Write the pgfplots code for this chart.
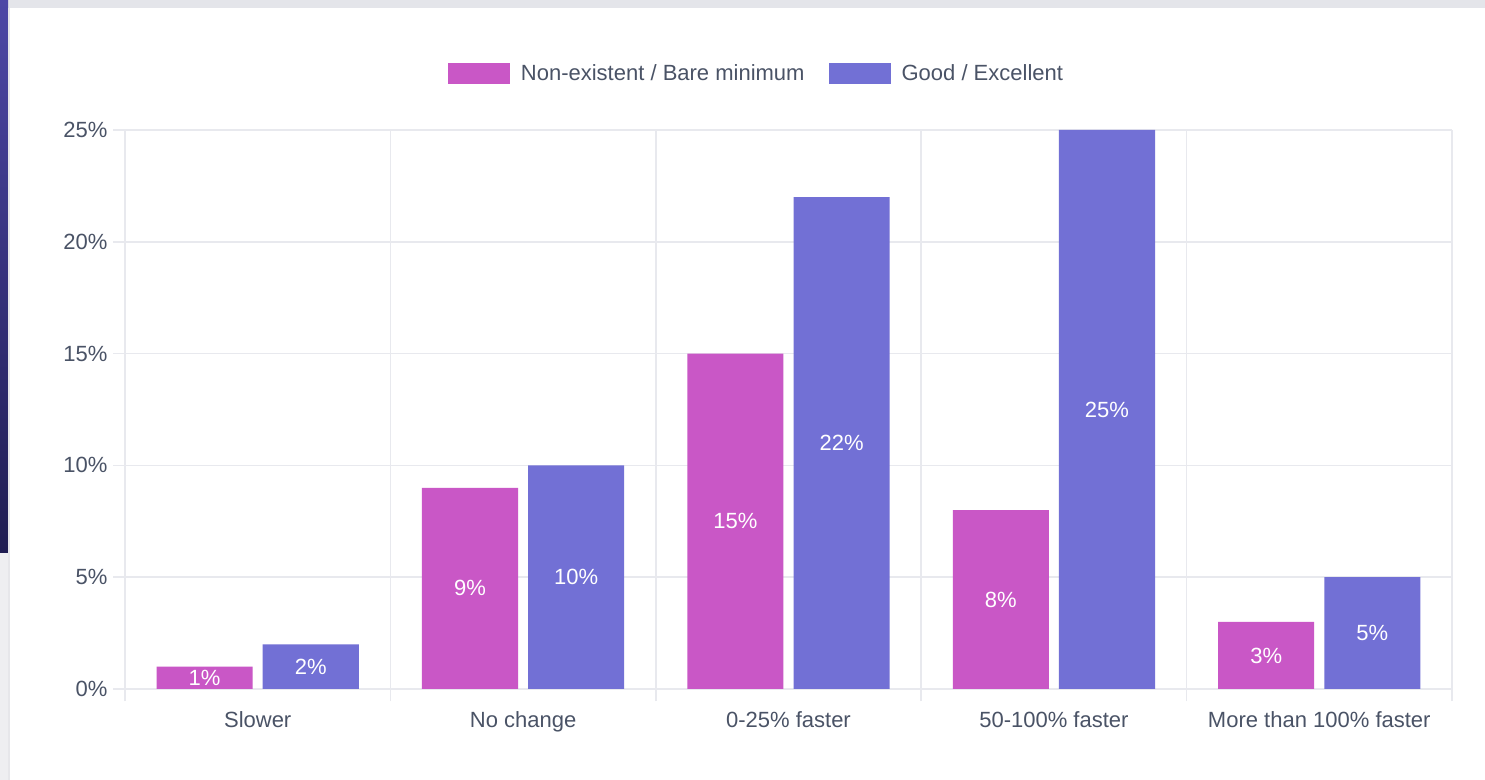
\documentclass[border=0pt]{standalone}
\usepackage{fontspec}
\setmainfont{Liberation Sans}
\usepackage{pgfplots}
\pgfplotsset{compat=1.18}
\usepackage{pgfplotstable}
\definecolor{pinkbar}{HTML}{C957C6}
\definecolor{bluebar}{HTML}{7270D5}
\definecolor{gridcol}{HTML}{E8E9EE}
\definecolor{textcol}{HTML}{4A5366}
\definecolor{topgray}{HTML}{E4E5EA}
\definecolor{stripA}{HTML}{4D47A6}
\definecolor{stripB}{HTML}{1F1C52}
\definecolor{sidegray}{HTML}{EEEEF1}
\definecolor{cardborder}{HTML}{E6E6EA}

\pgfplotstableread{
idx a b
0 1 2
1 9 10
2 15 22
3 8 25
4 3 5
}\datatable

\begin{document}
\begin{tikzpicture}
\path[use as bounding box] (0,0) rectangle (1485bp,780bp);
\fill[white] (0,0) rectangle (1485bp,780bp);
\fill[topgray] (0,772bp) rectangle (1485bp,780bp);
\shade[top color=stripA, bottom color=stripB] (0,227bp) rectangle (8bp,780bp);
\fill[sidegray] (0,0) rectangle (8bp,227bp);
\draw[cardborder, line width=2bp] (9bp,0) -- (9bp,772bp);
\begin{axis}[
  at={(125bp,91bp)}, anchor=south west,
  scale only axis, width=1327bp, height=559bp,
  xmin=-0.5, xmax=4.5, ymin=0, ymax=25,
  xtick={0,1,2,3,4},
  xticklabels={Slower, No change, 0-25\% faster, 50-100\% faster, More than 100\% faster},
  minor xtick={-0.5,0.5,1.5,2.5,3.5,4.5},
  ytick={0,5,10,15,20,25},
  yticklabel={\pgfmathprintnumber{\tick}\%},
  /pgf/number format/assume math mode=true,
  xtick pos=bottom, ytick pos=left,
  xminorgrids, ymajorgrids,
  grid style={gridcol, line width=1.5bp},
  minor grid style={gridcol, line width=1.5bp},
  axis line style={draw=none},
  tick align=outside,
  major tick length=12bp, minor tick length=12bp,
  tick style={gridcol, line width=1.5bp},
  major x tick style={draw=none},
  ticklabel style={font=\fontsize{22bp}{26bp}\selectfont, text=textcol},
  yticklabel style={xshift=-2bp},
  xticklabel style={yshift=-7bp},
  legend columns=2,
  legend style={at={(axis description cs:0.5,1)}, anchor=center, xshift=-33bp, yshift=56bp,
    draw=none, fill=none, inner sep=0pt, font=\fontsize{22bp}{26bp}\selectfont, text=textcol,
    /tikz/every odd column/.append style={column sep=11bp},
    /tikz/every even column/.append style={column sep=24bp},
    nodes={inner sep=0pt}},
]
\addplot[ybar, bar width=0.362, bar shift=-0.2, fill=pinkbar, draw=none,
  legend image code/.code={\fill[pinkbar] (0bp,-11bp) rectangle (62bp,10bp);}]
  table[x=idx, y=a]{\datatable};
\addlegendentry{Non-existent / Bare minimum}
\addplot[ybar, bar width=0.362, bar shift=0.2, fill=bluebar, draw=none,
  legend image code/.code={\fill[bluebar] (0bp,-11bp) rectangle (62bp,10bp);}]
  table[x=idx, y=b]{\datatable};
\addlegendentry{Good / Excellent}
\addplot[draw=none, forget plot, point meta=explicit,
  nodes near coords={\pgfmathprintnumber{\pgfplotspointmeta}\%},
  nodes near coords style={anchor=center, text=white, font=\fontsize{22bp}{26bp}\selectfont}]
  table[x expr=\thisrow{idx}-0.2, y expr=\thisrow{a}/2, meta=a]{\datatable};
\addplot[draw=none, forget plot, point meta=explicit,
  nodes near coords={\pgfmathprintnumber{\pgfplotspointmeta}\%},
  nodes near coords style={anchor=center, text=white, font=\fontsize{22bp}{26bp}\selectfont}]
  table[x expr=\thisrow{idx}+0.2, y expr=\thisrow{b}/2, meta=b]{\datatable};
\end{axis}
\end{tikzpicture}
\end{document}
